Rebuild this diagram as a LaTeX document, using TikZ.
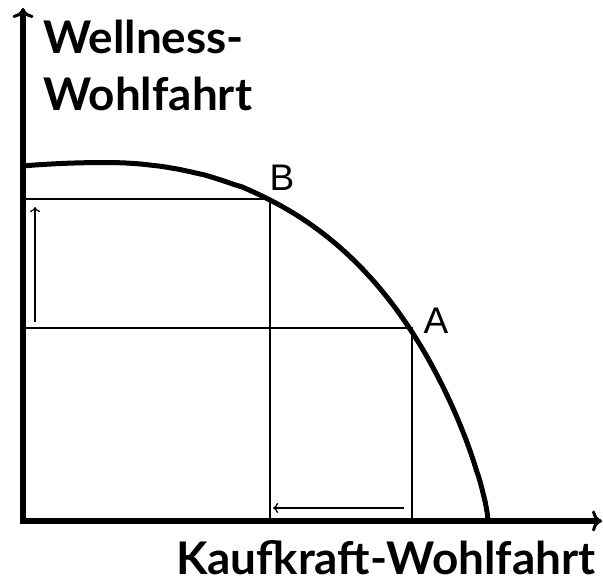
\documentclass[tikz,border=0pt]{standalone}
\usepackage{fontspec}
\setmainfont{Liberation Sans}
\newfontfamily\titlefont[FakeStretch=1.02]{Lato}
\usetikzlibrary{arrows.meta}
\begin{document}
\begin{tikzpicture}[x=1pt,y=-1pt,
  axis/.style={line width=5.5pt,-{To[length=10pt,width=21pt,line width=3pt]}},
  curveline/.style={line width=5pt,line join=round},
  guide/.style={line width=2.4pt},
  shiftarrow/.style={line width=1.7pt,-{To[length=5pt,width=10pt,line width=1.3pt]}},
  title/.style={font=\titlefont\bfseries\fontsize{45}{57}\selectfont,anchor=base west,inner sep=0pt,text depth=0pt},
  pointlabel/.style={font=\fontsize{37}{40}\selectfont,anchor=base,inner sep=0pt,text depth=0pt}]
\useasboundingbox (0,0) rectangle (603,581);
\coordinate (O) at (23,521);
\coordinate (ytop) at (23,8);
\coordinate (xend) at (602,521);
\coordinate (B) at (270,199);
\coordinate (A) at (412,328);
\coordinate (Bx) at (270,521);
\coordinate (Ax) at (412,521);
\coordinate (By) at (23,199);
\coordinate (Ay) at (23,328);
% guides
\draw[guide] (By) -- (B) -- (Bx);
\draw[guide] (Ay) -- (A) -- (Ax);
% axes
\draw[axis] ([yshift=-3pt]O) -- (ytop);
\draw[axis] ([xshift=-3pt]O) -- (xend);
% curve (frontier)
\draw[curveline]
  plot[domain=82:90,samples=10,variable=\t] ({105-594*cos(\t)},{521-358.5*sin(\t)})
  -- plot[domain=90:0.05,samples=90,variable=\t]
  ({105+383*pow(max(1-pow(sin(\t),1.5+0.5*sin(\t)),0.00001),1/(1.5+0.5*sin(\t)))},{521-358.5*sin(\t)});
% shift arrows
\coordinate (u1) at (35,322);
\coordinate (u2) at (35,207);
\coordinate (l1) at (404,508);
\coordinate (l2) at (273,508);
\draw[shiftarrow] (u1) -- (u2);
\draw[shiftarrow] (l1) -- (l2);
% labels
\node[pointlabel] (Blab) at (282,190) {B};
\node[pointlabel] (Alab) at (436,333) {A};
\node[title] (t1) at (43,53) {Wellness-};
\node[title] (t2) at (43,110) {Wohlfahrt};
\node[title] (t3) at (176,574) {Kaufkraft-Wohlfahrt};
\end{tikzpicture}
\end{document}
